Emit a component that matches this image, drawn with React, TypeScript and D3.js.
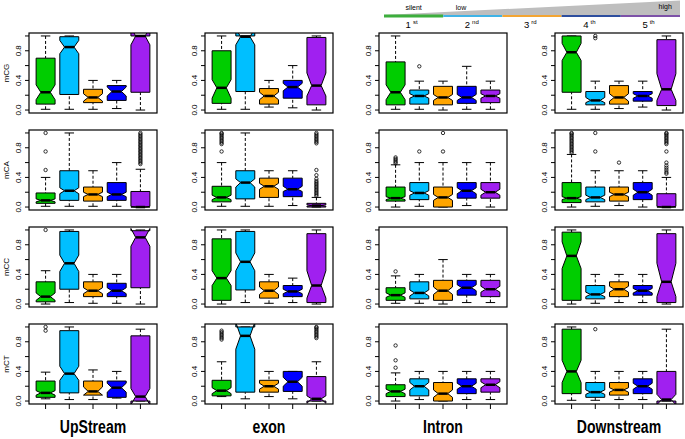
import React from "react";
import * as d3 from "d3";

const regions = ["UpStream", "exon", "Intron", "Downstream"];
const contexts = ["mCG", "mCA", "mCC", "mCT"];
const quintileNums = ["1", "2", "3", "4", "5"];
const quintileSup = ["st", "nd", "rd", "th", "th"];
const levelLabels = ["silent", "low", "high"];
const boxFill = ["#00CD00", "#00BFFF", "#FFA500", "#0000FF", "#A020F0"];
const legendColors = ["#3DAE3D", "#3FB3E6", "#F3A533", "#2D4E9E", "#7D52A8"];
const yTicks = [0, 0.2, 0.4, 0.6, 0.8, 1.0];
const yLabels = [0, 0.4, 0.8];

// each box: [whiskerLow, q1, median, q3, whiskerHigh, notchLow, notchHigh]
const upStream_mCG = [
  [0.01, 0.08, 0.24, 0.70, 1.0, 0.14, 0.34],
  [0.01, 0.21, 0.85, 0.99, 1.0, 0.76, 0.94],
  [0.01, 0.10, 0.17, 0.28, 0.40, 0.12, 0.22],
  [0.02, 0.13, 0.25, 0.33, 0.40, 0.19, 0.31],
  [0.0, 0.24, 1.0, 1.0, 1.0, 0.88, 1.12],
];
const upStream_mCA = [
  [0.01, 0.05, 0.09, 0.19, 0.40, 0.07, 0.11],
  [0.01, 0.09, 0.22, 0.49, 1.0, 0.18, 0.26],
  [0.01, 0.08, 0.17, 0.27, 0.49, 0.14, 0.20],
  [0.01, 0.09, 0.17, 0.33, 0.60, 0.14, 0.20],
  [0.0, 0.0, 0.0, 0.21, 0.51, 0.0, 0.01],
];
const upStream_mCC = [
  [0.0, 0.03, 0.10, 0.30, 0.45, 0.05, 0.15],
  [0.02, 0.20, 0.55, 0.98, 1.0, 0.44, 0.66],
  [0.01, 0.10, 0.18, 0.30, 0.40, 0.14, 0.22],
  [0.01, 0.10, 0.18, 0.28, 0.40, 0.14, 0.22],
  [0.0, 0.22, 0.90, 0.99, 1.0, 0.78, 1.02],
];
const upStream_mCT = [
  [0.03, 0.05, 0.11, 0.27, 0.39, 0.08, 0.14],
  [0.02, 0.11, 0.37, 0.95, 1.0, 0.28, 0.47],
  [0.02, 0.08, 0.13, 0.27, 0.42, 0.08, 0.19],
  [0.04, 0.05, 0.18, 0.27, 0.40, 0.12, 0.24],
  [0.0, 0.0, 0.06, 0.88, 0.97, -0.05, 0.17],
];
const exon_mCG = [
  [0.01, 0.09, 0.30, 0.80, 1.0, 0.16, 0.41],
  [0.01, 0.25, 0.99, 1.0, 1.0, 0.88, 1.10],
  [0.04, 0.08, 0.19, 0.29, 0.40, 0.14, 0.24],
  [0.03, 0.16, 0.31, 0.40, 0.60, 0.26, 0.36],
  [0.0, 0.07, 0.33, 0.98, 1.0, 0.19, 0.50],
];
const exon_mCA = [
  [0.01, 0.07, 0.13, 0.28, 0.60, 0.10, 0.16],
  [0.01, 0.11, 0.33, 0.49, 1.0, 0.27, 0.38],
  [0.01, 0.13, 0.28, 0.39, 0.49, 0.24, 0.32],
  [0.02, 0.14, 0.24, 0.39, 0.49, 0.21, 0.28],
  [0.0, 0.0, 0.02, 0.05, 0.13, 0.01, 0.03],
];
const exon_mCC = [
  [0.0, 0.05, 0.35, 0.88, 1.0, 0.25, 0.45],
  [0.02, 0.19, 0.57, 0.98, 1.0, 0.45, 0.69],
  [0.01, 0.08, 0.18, 0.30, 0.40, 0.13, 0.23],
  [0.02, 0.10, 0.17, 0.25, 0.35, 0.14, 0.20],
  [0.0, 0.02, 0.25, 0.95, 1.0, 0.08, 0.45],
];
const exon_mCT = [
  [0.06, 0.07, 0.14, 0.28, 0.53, 0.10, 0.18],
  [0.03, 0.12, 0.88, 1.0, 1.0, 0.70, 1.06],
  [0.06, 0.12, 0.20, 0.28, 0.40, 0.16, 0.24],
  [0.03, 0.13, 0.26, 0.40, 0.40, 0.20, 0.32],
  [0.0, 0.0, 0.03, 0.33, 0.53, -0.03, 0.07],
];
const intron_mCG = [
  [0.01, 0.07, 0.24, 0.65, 1.0, 0.14, 0.34],
  [0.01, 0.08, 0.19, 0.27, 0.39, 0.16, 0.22],
  [0.0, 0.07, 0.17, 0.32, 0.39, 0.13, 0.21],
  [0.01, 0.09, 0.17, 0.32, 0.59, 0.13, 0.21],
  [0.01, 0.10, 0.19, 0.27, 0.39, 0.16, 0.22],
];
const intron_mCA = [
  [0.0, 0.08, 0.12, 0.27, 0.57, 0.10, 0.14],
  [0.01, 0.10, 0.19, 0.33, 0.60, 0.16, 0.22],
  [0.0, 0.0, 0.13, 0.27, 0.60, 0.09, 0.17],
  [0.02, 0.12, 0.22, 0.33, 0.60, 0.18, 0.26],
  [0.0, 0.12, 0.20, 0.33, 0.60, 0.16, 0.24],
];
const intron_mCC = [
  [0.01, 0.05, 0.12, 0.22, 0.38, 0.09, 0.15],
  [0.01, 0.07, 0.15, 0.30, 0.40, 0.11, 0.19],
  [0.0, 0.05, 0.18, 0.32, 0.60, 0.13, 0.23],
  [0.02, 0.12, 0.22, 0.32, 0.40, 0.18, 0.26],
  [0.02, 0.10, 0.20, 0.32, 0.40, 0.16, 0.24],
];
const intron_mCT = [
  [0.0, 0.06, 0.13, 0.22, 0.38, 0.10, 0.16],
  [0.02, 0.07, 0.20, 0.30, 0.40, 0.15, 0.25],
  [0.0, 0.0, 0.10, 0.25, 0.40, 0.05, 0.15],
  [0.02, 0.10, 0.20, 0.30, 0.40, 0.16, 0.24],
  [0.02, 0.12, 0.22, 0.30, 0.40, 0.18, 0.26],
];
const downStream_mCG = [
  [0.01, 0.24, 0.78, 1.0, 1.0, 0.67, 0.90],
  [0.01, 0.07, 0.13, 0.25, 0.39, 0.10, 0.17],
  [0.02, 0.08, 0.17, 0.33, 0.39, 0.12, 0.22],
  [0.04, 0.12, 0.19, 0.25, 0.39, 0.16, 0.22],
  [0.0, 0.06, 0.28, 0.95, 1.0, 0.13, 0.49],
];
const downStream_mCA = [
  [0.0, 0.06, 0.12, 0.33, 0.71, 0.10, 0.14],
  [0.01, 0.07, 0.13, 0.27, 0.49, 0.10, 0.16],
  [0.02, 0.08, 0.17, 0.27, 0.49, 0.14, 0.20],
  [0.0, 0.10, 0.20, 0.33, 0.49, 0.16, 0.24],
  [0.0, 0.0, 0.0, 0.18, 0.40, 0.0, 0.01],
];
const downStream_mCC = [
  [0.0, 0.05, 0.65, 0.97, 1.0, 0.48, 0.84],
  [0.01, 0.07, 0.13, 0.25, 0.40, 0.10, 0.16],
  [0.02, 0.10, 0.20, 0.30, 0.40, 0.16, 0.24],
  [0.02, 0.12, 0.18, 0.25, 0.40, 0.15, 0.21],
  [0.0, 0.02, 0.30, 0.95, 1.0, 0.10, 0.55],
];
const downStream_mCT = [
  [0.01, 0.10, 0.40, 0.97, 1.0, 0.25, 0.55],
  [0.01, 0.05, 0.12, 0.25, 0.40, 0.09, 0.15],
  [0.02, 0.08, 0.15, 0.25, 0.40, 0.12, 0.18],
  [0.02, 0.10, 0.20, 0.30, 0.40, 0.16, 0.24],
  [0.0, 0.0, 0.02, 0.40, 0.97, -0.05, 0.09],
];

// outliers per box
const upStream_mCG_out = [[], [], [], [], []];
const upStream_mCA_out = [
  [0.5, 0.75, 1.0], [], [], [],
  [0.58, 0.6, 0.62, 0.64, 0.66, 0.68, 0.7, 0.72, 0.74, 0.76, 0.78, 0.8, 0.82, 0.84, 0.86, 0.88, 0.9, 0.92, 0.94, 0.96, 0.98, 1.0],
];
const upStream_mCC_out = [[1.0], [], [], [], []];
const upStream_mCT_out = [[0.95, 1.0], [], [], [], []];
const exon_mCG_out = [[], [], [], [], []];
const exon_mCA_out = [
  [0.75, 0.85, 0.87, 0.89, 0.91, 0.93, 0.95, 0.97, 0.99, 1.0], [], [], [],
  [0.15, 0.17, 0.19, 0.21, 0.23, 0.25, 0.27, 0.29, 0.31, 0.33, 0.35, 0.38, 0.43, 0.5, 0.86, 0.88, 0.9, 0.92, 0.94, 0.96, 0.98, 1.0],
];
const exon_mCC_out = [[], [], [], [], []];
const exon_mCT_out = [
  [0.83, 0.85, 0.87, 0.89, 0.91, 0.93, 0.95], [], [], [],
  [0.85, 0.87, 0.89, 0.91, 0.93, 0.95, 0.97, 0.99, 1.0],
];
const intron_mCG_out = [[], [0.59], [], [], []];
const intron_mCA_out = [[0.59, 0.61, 0.63, 0.65, 0.67], [0.75], [0.75, 1.0], [], []];
const intron_mCC_out = [[0.44], [], [], [], []];
const intron_mCT_out = [[0.45, 0.55, 0.75], [], [], [], []];
const downStream_mCG_out = [[], [0.97, 1.0], [], [], []];
const downStream_mCA_out = [
  [0.73, 0.75, 0.77, 0.79, 0.81, 0.83, 0.85, 0.87, 0.89, 0.91, 0.93, 0.95, 0.97, 0.99, 1.0],
  [0.75, 1.0], [0.6], [],
  [0.45, 0.47, 0.5, 0.53, 0.56, 0.6, 0.75, 0.85, 0.87, 0.89, 0.91, 0.93, 0.95, 0.97, 0.99, 1.0],
];
const downStream_mCC_out = [[], [], [], [], []];
const downStream_mCT_out = [[], [0.97], [], [], []];

// panels[col][row]
const panelBoxes = [
  [upStream_mCG, upStream_mCA, upStream_mCC, upStream_mCT],
  [exon_mCG, exon_mCA, exon_mCC, exon_mCT],
  [intron_mCG, intron_mCA, intron_mCC, intron_mCT],
  [downStream_mCG, downStream_mCA, downStream_mCC, downStream_mCT],
];
const panelOutliers = [
  [upStream_mCG_out, upStream_mCA_out, upStream_mCC_out, upStream_mCT_out],
  [exon_mCG_out, exon_mCA_out, exon_mCC_out, exon_mCT_out],
  [intron_mCG_out, intron_mCA_out, intron_mCC_out, intron_mCT_out],
  [downStream_mCG_out, downStream_mCA_out, downStream_mCC_out, downStream_mCT_out],
];

const colLeft = [29, 205, 379, 555];
const rowTop = [33, 130, 227, 324];
const W = 128;
const H = 80;
const FONT = "'Liberation Sans', Arial, Helvetica, sans-serif";

function Panel({ col, row }: { col: number; row: number }) {
  const left = colLeft[col];
  const top = rowTop[row];
  const x = d3.scaleLinear().domain([0.3, 5.7]).range([left, left + W]);
  const y = d3.scaleLinear().domain([-0.04, 1.04]).range([top + H, top]);
  const boxes = panelBoxes[col][row];
  const outs = panelOutliers[col][row];
  const w = x(1.4) - x(1);
  const clipId = `clip-${col}-${row}`;
  const line = d3.line();
  return (
    <g>
      <defs>
        <clipPath id={clipId}>
          <rect x={left} y={top} width={W} height={H} />
        </clipPath>
      </defs>
      <g clipPath={`url(#${clipId})`}>
        {boxes.map((b, i) => {
          const [lo, q1, med, q3, hi, nLo, nHi] = b;
          const xc = x(i + 1);
          const pts: [number, number][] = [
            [xc - w, y(q1)], [xc + w, y(q1)], [xc + w, y(nLo)], [xc + w / 2, y(med)],
            [xc + w, y(nHi)], [xc + w, y(q3)], [xc - w, y(q3)], [xc - w, y(nHi)],
            [xc - w / 2, y(med)], [xc - w, y(nLo)],
          ];
          return (
            <g key={i}>
              <line x1={xc} x2={xc} y1={y(lo)} y2={y(q1)} stroke="#000" strokeWidth={1} strokeDasharray="3,2" />
              <line x1={xc} x2={xc} y1={y(hi)} y2={y(q3)} stroke="#000" strokeWidth={1} strokeDasharray="3,2" />
              <line x1={xc - w / 2} x2={xc + w / 2} y1={y(lo)} y2={y(lo)} stroke="#000" strokeWidth={1} />
              <line x1={xc - w / 2} x2={xc + w / 2} y1={y(hi)} y2={y(hi)} stroke="#000" strokeWidth={1} />
              <path d={line(pts) + "Z"} fill={boxFill[i]} stroke="#000" strokeWidth={1} strokeLinejoin="miter" />
              <line x1={xc - w / 2} x2={xc + w / 2} y1={y(med)} y2={y(med)} stroke="#000" strokeWidth={2.5} />
              {outs[i].map((o, k) => (
                <circle key={k} cx={xc} cy={y(o)} r={1.7} fill="none" stroke="#000" strokeWidth={0.8} />
              ))}
            </g>
          );
        })}
      </g>
      <rect x={left} y={top} width={W} height={H} fill="none" stroke="#000" strokeWidth={1.2} />
      {yTicks.map((t) => (
        <line key={t} x1={left - 4} x2={left} y1={y(t)} y2={y(t)} stroke="#000" strokeWidth={1} />
      ))}
      {yLabels.map((t) => (
        <text key={t} x={0} y={0} transform={`translate(${left - 11},${y(t)}) rotate(-90)`}
          textAnchor="middle" dominantBaseline="central" fontSize={8} fontFamily={FONT}>
          {t.toFixed(1)}
        </text>
      ))}
      {col === 0 && (
        <text transform={`translate(6,${top + H / 2}) rotate(-90)`} textAnchor="middle"
          dominantBaseline="central" fontSize={8} fontFamily={FONT}>
          {contexts[row]}
        </text>
      )}
      {row === 3 && boxes.map((_, i) => (
        <line key={i} x1={x(i + 1)} x2={x(i + 1)} y1={top + H} y2={top + H + 5} stroke="#000" strokeWidth={1} />
      ))}
      {row === 3 && (
        <text transform={`translate(${left + W / 2},433) scale(0.76,1)`} textAnchor="middle"
          fontSize={18.5} fontWeight="bold" fontFamily={FONT}>
          {regions[col]}
        </text>
      )}
    </g>
  );
}

function Legend() {
  const segStart = 384;
  const segW = 59.2;
  const seg = d3.scaleLinear().domain([0, 5]).range([segStart, segStart + 5 * segW]);
  const lineY = 16;
  return (
    <g>
      <polygon points={`${seg(0)},${lineY - 1} ${seg(5)},${lineY - 1} ${seg(5)},0.5`} fill="#BEBEBE" />
      {quintileNums.map((q, i) => (
        <line key={i} x1={seg(i)} x2={seg(i + 1)} y1={lineY} y2={lineY}
          stroke={legendColors[i]} strokeWidth={i === 0 ? 3 : 2} />
      ))}
      <text x={seg(0.5)} y={10} textAnchor="middle" fontSize={7} fontFamily={FONT}>{levelLabels[0]}</text>
      <text x={seg(1.3)} y={10} textAnchor="middle" fontSize={7} fontFamily={FONT}>{levelLabels[1]}</text>
      <text x={seg(4.75)} y={9} textAnchor="middle" fontSize={7} fontFamily={FONT}>{levelLabels[2]}</text>
      {quintileNums.map((q, i) => (
        <text key={i} x={seg(i + 0.5) - 8} y={28} fontSize={9.5} fontFamily={FONT}>
          {q}
          <tspan dx={2} dy={-4} fontSize={6}>{quintileSup[i]}</tspan>
        </text>
      ))}
    </g>
  );
}

export default function App() {
  return (
    <svg width={685} height={439} style={{ position: "fixed", left: 0, top: 0, background: "#fff" }}>
      <rect x={0} y={0} width={685} height={439} fill="#fff" />
      <Legend />
      {[0, 1, 2, 3].map((c) => [0, 1, 2, 3].map((r) => <Panel key={`${c}-${r}`} col={c} row={r} />))}
    </svg>
  );
}
